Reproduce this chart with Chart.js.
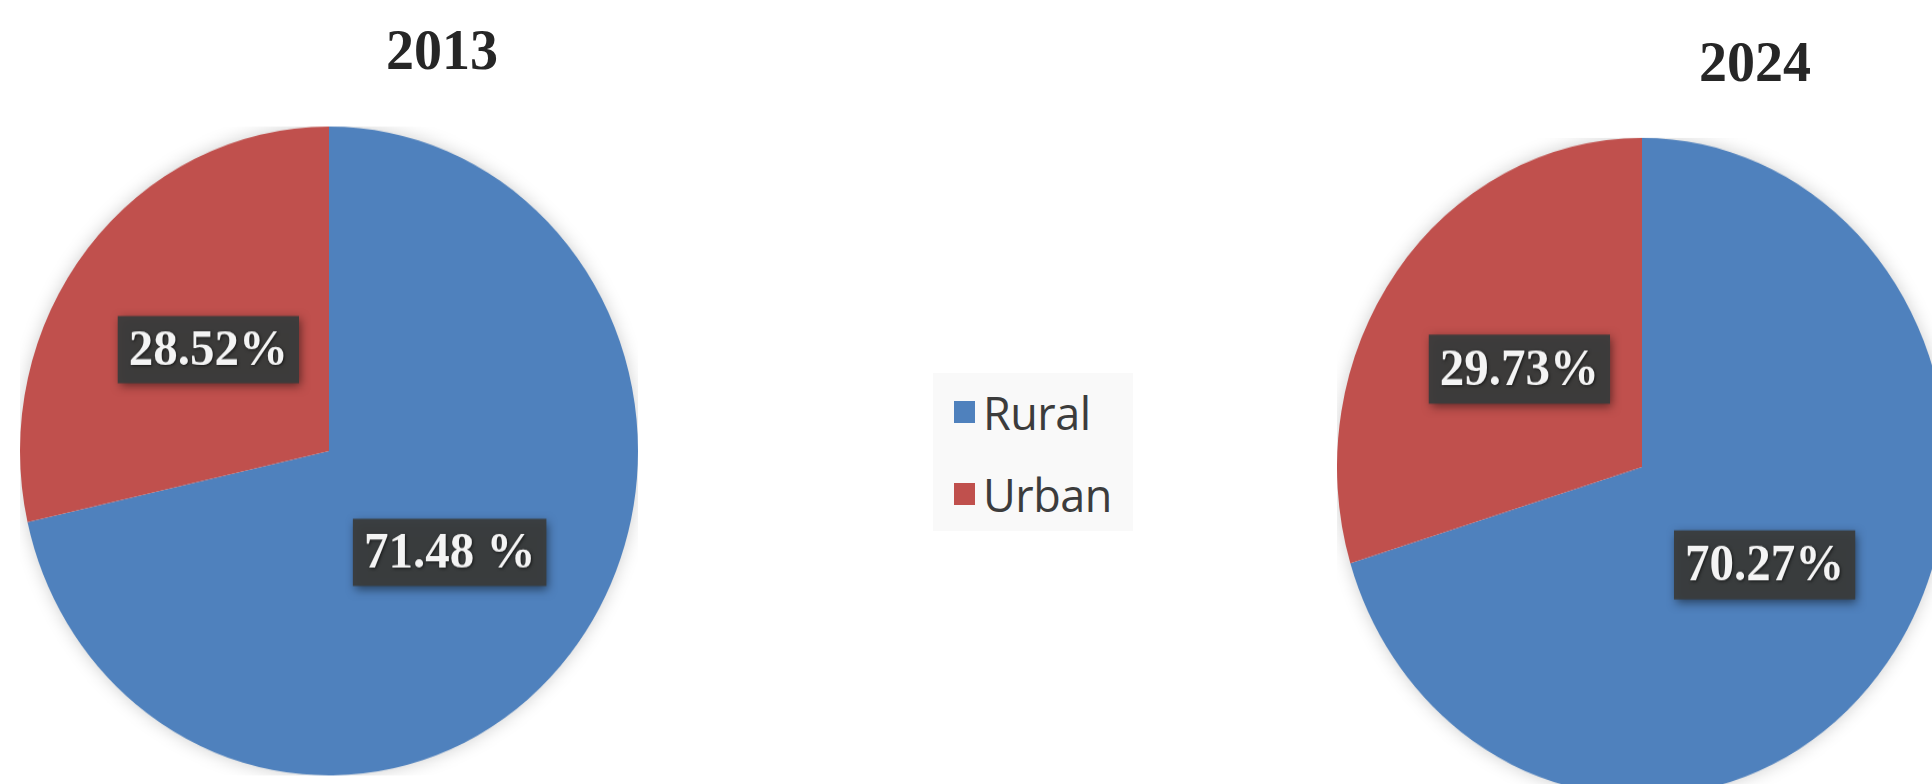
<!DOCTYPE html>
<html>
<head>
<meta charset="utf-8">
<script src="https://cdn.jsdelivr.net/npm/chart.js@4.4.1/dist/chart.umd.min.js"></script>
<style>
  html, body { margin: 0; padding: 0; background: #ffffff; }
  body { width: 1932px; height: 784px; overflow: hidden; position: relative; }
  .pie { position: absolute; transform-origin: 50% 50%; }
  .title { position: absolute; font-family: "Liberation Serif", "Times New Roman", serif; font-weight: bold; font-size: 56px; color: #262626; transform: translate(-50%, -50%); white-space: nowrap; }
  #legend { position: absolute; left: 933px; top: 373px; width: 200px; height: 158px; background: #f9f9f9; }
  .lg-item { position: absolute; left: 0; height: 46px; display: flex; align-items: center; font-family: "Open Sans", "Noto Sans", sans-serif; font-size: 45px; color: #3c3c3c; letter-spacing: -0.5px; }
  .lg-box { width: 21px; height: 22px; margin-left: 21px; margin-right: 8px; }
</style>
</head>
<body>
<div class="title" style="left:442px; top:50px;">2013</div>
<div class="title" style="left:1755px; top:62px;">2024</div>

<div class="pie" id="wrap2013" style="left:20px; top:142px; width:618px; height:618px; transform: scaleY(1.05);">
  <canvas id="c2013" width="618" height="618"></canvas>
</div>
<div class="pie" id="wrap2024" style="left:1337px; top:162px; width:610px; height:610px; transform: scaleY(1.079);">
  <canvas id="c2024" width="610" height="610"></canvas>
</div>
<div id="legend"></div>

<script>
// ---- Data ----
const categories = ['Rural', 'Urban'];
const years = ['2013', '2024'];
const values2013 = [71.48, 28.52];
const values2024 = [70.27, 29.73];
const labels2013 = ['71.48 %', '28.52%'];
const labels2024 = ['70.27%', '29.73%'];
const colors = ['#4f81bd', '#c0504d'];

// ---- Plugins ----
const pieShadow = {
  id: 'pieShadow',
  beforeDatasetsDraw(chart) {
    const arc = chart.getDatasetMeta(0).data[0];
    if (!arc) return;
    const ctx = chart.ctx;
    ctx.save();
    ctx.shadowColor = 'rgba(0,0,0,0.22)';
    ctx.shadowBlur = 18;
    ctx.fillStyle = '#ffffff';
    ctx.beginPath();
    ctx.arc(arc.x, arc.y, arc.outerRadius - 1, 0, Math.PI * 2);
    ctx.fill();
    ctx.restore();
  }
};

const boxLabels = {
  id: 'boxLabels',
  afterDatasetsDraw(chart, args, opts) {
    const ctx = chart.ctx;
    const meta = chart.getDatasetMeta(0);
    const texts = opts.texts || [];
    meta.data.forEach((arc, i) => {
      const p = arc.getCenterPoint();
      const t = texts[i];
      ctx.save();
      ctx.font = 'bold 49px "Liberation Serif", "Times New Roman", serif';
      const w = ctx.measureText(t).width + 22;
      const h = 64;
      ctx.shadowColor = 'rgba(0,0,0,0.55)';
      ctx.shadowBlur = 9;
      ctx.shadowOffsetX = 2;
      ctx.shadowOffsetY = 3;
      ctx.fillStyle = 'rgba(58,60,60,0.95)';
      ctx.fillRect(p.x - w / 2, p.y - h / 2, w, h);
      ctx.shadowColor = 'rgba(0,0,0,0.6)';
      ctx.shadowBlur = 3;
      ctx.shadowOffsetX = 1;
      ctx.shadowOffsetY = 1;
      ctx.fillStyle = '#f4f4f4';
      ctx.textAlign = 'center';
      ctx.textBaseline = 'middle';
      ctx.fillText(t, p.x, p.y + 2);
      ctx.restore();
    });
  }
};

function makePie(id, values, texts) {
  return new Chart(document.getElementById(id), {
    type: 'pie',
    data: {
      labels: categories,
      datasets: [{
        data: values,
        backgroundColor: colors,
        borderWidth: 0,
        hoverOffset: 0
      }]
    },
    options: {
      responsive: false,
      animation: false,
      devicePixelRatio: 1,
      layout: { padding: 0 },
      events: [],
      plugins: {
        legend: { display: false },
        title: { display: false },
        tooltip: { enabled: false },
        boxLabels: { texts: texts }
      }
    },
    plugins: [pieShadow, boxLabels]
  });
}

makePie('c2013', values2013, labels2013);
makePie('c2024', values2024, labels2024);

// ---- Legend ----
const legend = document.getElementById('legend');
const rowTops = [16, 98];
categories.forEach((c, i) => {
  const item = document.createElement('div');
  item.className = 'lg-item';
  item.style.top = rowTops[i] + 'px';
  const box = document.createElement('span');
  box.className = 'lg-box';
  box.style.background = colors[i];
  const txt = document.createElement('span');
  txt.textContent = c;
  item.appendChild(box);
  item.appendChild(txt);
  legend.appendChild(item);
});
</script>
</body>
</html>
